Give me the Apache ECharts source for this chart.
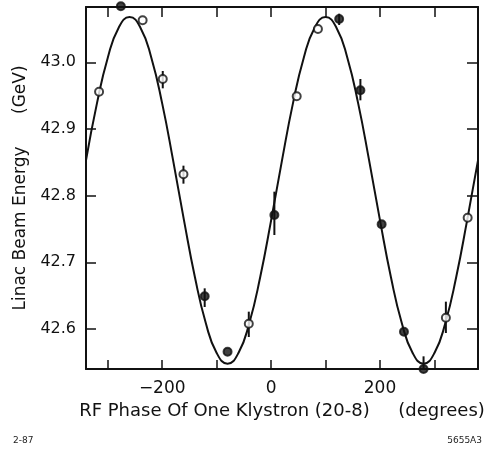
<!DOCTYPE html>
<html>
<head>
<meta charset="utf-8">
<script src="https://cdn.jsdelivr.net/npm/echarts@6/dist/echarts.min.js"></script>
<style>html,body{margin:0;padding:0;background:#fff;}#c{width:489px;height:454px;}</style>
</head>
<body>
<div id="c"></div>
<script>
// Fitted curve
var curveX = [-340,-320,-300,-280,-260,-240,-220,-200,-180,-160,-140,-120,-100,-80,-60,-40,-20,0,20,40,60,80,100,120,140,160,180,200,220,240,260,280,300,320,340,360,380];
var curveY = [42.853,42.938,43.007,43.052,43.068,43.052,43.007,42.938,42.853,42.763,42.678,42.609,42.564,42.548,42.564,42.609,42.678,42.763,42.853,42.938,43.007,43.052,43.068,43.052,43.007,42.938,42.853,42.763,42.678,42.609,42.564,42.548,42.564,42.609,42.678,42.763,42.853];
// Measured points
var ptX = [-276,-236,-199,-316,-161,-122,-80,-41,6,47,86,125,164,203,244,280,321,361];
var ptY = [43.084,43.063,42.975,42.956,42.832,42.649,42.566,42.608,42.771,42.949,43.050,43.065,42.958,42.757,42.596,42.540,42.617,42.767];
var ptFilled = [1,0,0,0,0,1,1,0,1,0,0,1,1,1,1,1,0,0];
// Error bars
var errX  = [-199,-161,-122,-41,6,125,164,280,321];
var errLo = [42.961,42.818,42.633,42.588,42.741,43.056,42.943,42.540,42.594];
var errHi = [42.987,42.845,42.661,42.626,42.806,43.073,42.975,42.559,42.641];
// Ticks
var xTicks = [-300,-200,-100,0,100,200,300];
var xLabels = [-200,0,200];
var yTicks = [42.6,42.7,42.8,42.9,43.0];

var FONT = 'DejaVu Sans';
var chart = echarts.init(document.getElementById('c'), null, {renderer:'canvas'});
var axisLine = {show:true, onZero:false, lineStyle:{color:'#111', width:2}};
var option = {
  backgroundColor:'#fff',
  animation:false,
  grid:{left:86, right:11, top:7, bottom:85, containLabel:false},
  xAxis:[{
    type:'value', min:-340, max:380, position:'bottom',
    axisLine:axisLine,
    axisTick:{show:true, inside:true, length:9, customValues:xTicks, lineStyle:{color:'#111', width:1.5}},
    axisLabel:{show:true, customValues:xLabels, margin:11, color:'#111', fontFamily:FONT, fontSize:17,
      formatter:function(v){return String(v).replace('-', '\u2212');}},
    splitLine:{show:false},
    name:'RF Phase Of One Klystron (20-8)     (degrees)', nameLocation:'middle', nameGap:30,
    nameTextStyle:{color:'#111', fontFamily:FONT, fontSize:18}
  },{
    type:'value', min:-340, max:380, position:'top',
    axisLine:axisLine,
    axisTick:{show:true, inside:true, length:10, customValues:xTicks, lineStyle:{color:'#111', width:1.5}},
    axisLabel:{show:false}, splitLine:{show:false}
  }],
  yAxis:[{
    type:'value', min:42.54, max:43.083, position:'left',
    axisLine:axisLine,
    axisTick:{show:true, inside:true, length:10, customValues:yTicks, lineStyle:{color:'#111', width:1.5}},
    axisLabel:{show:true, customValues:yTicks, margin:10, color:'#111', fontFamily:FONT, fontSize:16,
      formatter:function(v){return v.toFixed(1);}},
    splitLine:{show:false},
    name:'Linac Beam Energy      (GeV)', nameLocation:'middle', nameGap:57, nameRotate:90,
    nameTextStyle:{color:'#111', fontFamily:FONT, fontSize:17}
  },{
    type:'value', min:42.54, max:43.083, position:'right',
    axisLine:axisLine,
    axisTick:{show:true, inside:true, length:11, customValues:yTicks, lineStyle:{color:'#111', width:1.5}},
    axisLabel:{show:false}, splitLine:{show:false}
  }],
  series:[{
    type:'line', xAxisIndex:0, yAxisIndex:0, smooth:true, showSymbol:false,
    data:curveX.map(function(x,i){return [x, curveY[i]];}),
    lineStyle:{color:'#111', width:2}, clip:true, z:2
  },{
    type:'custom', xAxisIndex:0, yAxisIndex:0,
    data:errX.map(function(x,i){return [x, errLo[i], errHi[i]];}),
    renderItem:function(params, api){
      var a = api.coord([api.value(0), api.value(1)]);
      var b = api.coord([api.value(0), api.value(2)]);
      return {type:'line', shape:{x1:a[0], y1:a[1], x2:b[0], y2:b[1]}, style:{stroke:'#111', lineWidth:2}};
    }, z:3
  },{
    type:'scatter', xAxisIndex:0, yAxisIndex:0, clip:false, symbol:'circle', symbolSize:8,
    data:ptX.map(function(x,i){
      return {value:[x, ptY[i]], itemStyle:{color: ptFilled[i] ? '#111' : '#fff', borderColor:'#111', borderWidth:2}};
    }), z:4
  }],
  graphic:[
    {type:'text', left:13, top:436, style:{text:'2-87', font:'9px "DejaVu Sans"', fill:'#222'}},
    {type:'text', right:7, top:436, style:{text:'5655A3', font:'9px "DejaVu Sans"', fill:'#222'}}
  ]
};
chart.setOption(option);
</script>
</body>
</html>
